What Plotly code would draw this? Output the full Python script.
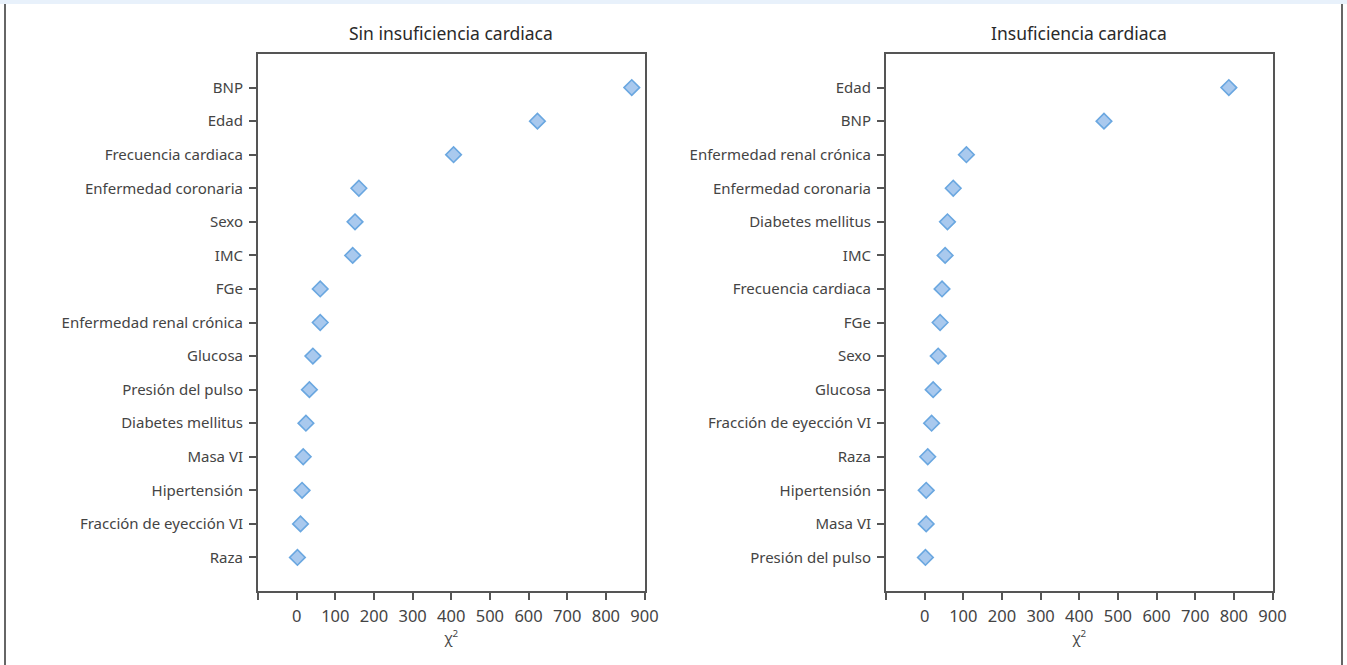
import plotly.graph_objects as go

W, H = 1347, 665

left_title = "Sin insuficiencia cardiaca"
left_labels = ["BNP", "Edad", "Frecuencia cardiaca", "Enfermedad coronaria", "Sexo", "IMC",
               "FGe", "Enfermedad renal crónica", "Glucosa", "Presión del pulso",
               "Diabetes mellitus", "Masa VI", "Hipertensión", "Fracción de eyección VI", "Raza"]
left_values = [867, 623, 406, 161, 151, 145, 61, 61, 42, 33, 24, 17, 14, 10, 2]

right_title = "Insuficiencia cardiaca"
right_labels = ["Edad", "BNP", "Enfermedad renal crónica", "Enfermedad coronaria",
                "Diabetes mellitus", "IMC", "Frecuencia cardiaca", "FGe", "Sexo", "Glucosa",
                "Fracción de eyección VI", "Raza", "Hipertensión", "Masa VI", "Presión del pulso"]
right_values = [787, 464, 108, 74, 59, 53, 45, 40, 35, 22, 18, 8, 4, 4, 2]

x_ticks = [-100, 0, 100, 200, 300, 400, 500, 600, 700, 800, 900]
x_ticktext = [""] + [str(v) for v in x_ticks[1:]]
x_title = "χ<sup>2</sup>"

FONT = "Noto Sans"
TXT = "#444444"
AX = "#555555"


def px_x(p):
    return p / W


def px_y(p):
    return 1 - p / H


fig = go.Figure()

panels = [
    (left_title, left_labels, left_values, "x", "y", (258, 644.5)),
    (right_title, right_labels, right_values, "x2", "y2", (886, 1272.5)),
]

layout_axes = {}
annotations = []
for i, (title, labels, values, xa, ya, (x0, x1)) in enumerate(panels):
    fig.add_trace(go.Scatter(
        x=values, y=labels, mode="markers", xaxis=xa, yaxis=ya,
        marker=dict(symbol="diamond", size=12, color="#a9c9ee",
                    line=dict(color="#6aa7e0", width=1.6)),
        showlegend=False, hoverinfo="x+y",
    ))
    sfx = "" if i == 0 else "2"
    layout_axes["xaxis" + sfx] = dict(
        domain=[px_x(x0), px_x(x1)], anchor=ya, automargin=False,
        range=[-100, 900], tickvals=x_ticks, ticktext=x_ticktext,
        showgrid=False, zeroline=False, showline=True, linecolor=AX, linewidth=2,
        mirror=True, ticks="outside", ticklen=7, tickwidth=2, tickcolor=AX,
        ticklabelstandoff=2,
        tickfont=dict(family=FONT, size=16.5, color=TXT),
        title=dict(text=x_title, font=dict(family=FONT, size=14, color=TXT), standoff=4),
    )
    layout_axes["yaxis" + sfx] = dict(
        domain=[px_y(591), px_y(54)], anchor=xa, automargin=False,
        type="category", categoryorder="array", categoryarray=labels[::-1],
        range=[-1, len(labels)],
        showgrid=False, zeroline=False, showline=True, linecolor=AX, linewidth=2,
        mirror=True, ticks="outside", ticklen=7, tickwidth=2, tickcolor=AX,
        ticklabelstandoff=3,
        tickfont=dict(family=FONT, size=15, color=TXT),
    )
    annotations.append(dict(
        text=title, x=(px_x(x0) + px_x(x1)) / 2, y=px_y(33), xref="paper", yref="paper",
        showarrow=False, xanchor="center", yanchor="middle",
        font=dict(family=FONT, size=17.5, color="#2a2a2a"),
    ))

shapes = [
    dict(type="rect", xref="paper", yref="paper", x0=0, x1=1, y0=px_y(4), y1=1,
         fillcolor="#e8f1fb", line=dict(width=0), layer="below"),
    dict(type="line", xref="paper", yref="paper", x0=px_x(5), x1=px_x(5), y0=0, y1=px_y(4),
         line=dict(color="#666666", width=2)),
    dict(type="line", xref="paper", yref="paper", x0=px_x(1342), x1=px_x(1342), y0=0, y1=px_y(4),
         line=dict(color="#666666", width=2)),
]

fig.update_layout(
    width=W, height=H, autosize=False, margin=dict(l=0, r=0, t=0, b=0, pad=0),
    paper_bgcolor="white", plot_bgcolor="white",
    annotations=annotations, shapes=shapes,
    font=dict(family=FONT, color=TXT),
    **layout_axes,
)

post = (
    "document.documentElement.style.overflow='hidden';"
    "document.body.style.margin='0';document.body.style.overflow='hidden';"
)

fig.write_html(
    "out.html",
    config={"responsive": False, "displayModeBar": False},
    post_script=post,
)
